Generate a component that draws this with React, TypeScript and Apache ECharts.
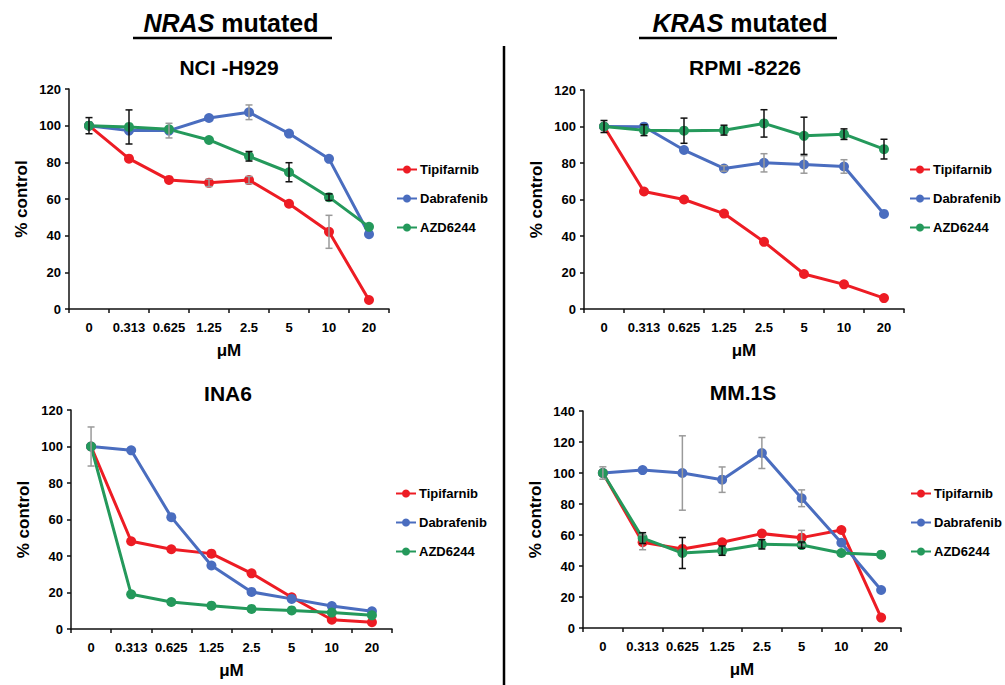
import React, { useEffect, useRef } from "react";
import * as echarts from "echarts";

const doses = ["0", "0.313", "0.625", "1.25", "2.5", "5", "10", "20"];
const drugs = ["Tipifarnib", "Dabrafenib", "AZD6244"];
const colors = ["#ed1c24", "#4a6dbf", "#24995b"];
const errColors = ["#9a9a9a", "#9a9a9a", "#111111"];

// NCI-H929
const h929Tipi = [100, 82, 70.4, 68.8, 70.3, 57.4, 42.1, 4.9];
const h929Dabra = [100, 97.3, 97.3, 104.2, 107.3, 95.7, 81.9, 40.8];
const h929Azd = [100, 99.3, 98, 92.2, 83.3, 74.6, 61, 44.8];
const h929TipiErr = [0, 0, 0, 2, 2, 0, 9, 0];
const h929DabraErr = [0, 0, 4, 0, 4, 0, 0, 0];
const h929AzdErr = [4.4, 9.3, 0, 0, 2.6, 5.2, 1.8, 0];

// RPMI-8226
const rpmiTipi = [100, 64.4, 60, 52.3, 36.8, 19.2, 13.5, 6];
const rpmiDabra = [100, 99.9, 87.1, 77, 80.1, 79.2, 78.1, 52.1];
const rpmiAzd = [100, 98, 97.7, 98, 101.7, 94.9, 95.8, 87.6];
const rpmiTipiErr = [0, 0, 0, 0, 0, 0, 0, 0];
const rpmiDabraErr = [0, 0, 0, 1.5, 5, 4.8, 3.7, 0];
const rpmiAzdErr = [3.3, 3, 6.9, 2.7, 7.5, 10.2, 2.9, 5.4];

// INA6
const ina6Tipi = [100, 48.1, 43.7, 41.3, 30.5, 17.4, 5.1, 3.7];
const ina6Dabra = [100, 97.9, 61.3, 34.8, 20.3, 16.5, 12.6, 9.7];
const ina6Azd = [100, 19, 14.8, 12.8, 11, 10.2, 9, 7.5];
const ina6TipiErr = [10.7, 0, 0, 0, 0, 0, 0, 0];
const ina6DabraErr = [0, 0, 0, 0, 0, 0, 0, 0];
const ina6AzdErr = [0, 0, 0, 0, 0, 0, 0, 0];

// MM.1S
const mm1sTipi = [100, 55.3, 51, 55.3, 60.9, 58.3, 63.2, 6.7];
const mm1sDabra = [100, 101.9, 100, 95.7, 112.9, 83.7, 55, 24.5];
const mm1sAzd = [100, 58, 48.4, 49.9, 54, 53.5, 48.4, 47.3];
const mm1sTipiErr = [0, 4.8, 0, 0, 0, 4.7, 0, 0];
const mm1sDabraErr = [4, 0, 24, 8.2, 10, 5.4, 0, 0];
const mm1sAzdErr = [0, 3.5, 10, 3, 3, 2, 0, 0];

const panelTitles = ["NCI -H929", "RPMI -8226", "INA6", "MM.1S"];
const panelMax = [120, 120, 120, 140];

const FONT = "'Liberation Sans', Arial, sans-serif";

export default function App() {
  const ref = useRef<HTMLDivElement>(null);
  useEffect(() => {
    if (!ref.current) return;
    const chart = echarts.init(ref.current, undefined, { renderer: "svg" });

    const panels = [
      { vals: [h929Tipi, h929Dabra, h929Azd], errs: [h929TipiErr, h929DabraErr, h929AzdErr] },
      { vals: [rpmiTipi, rpmiDabra, rpmiAzd], errs: [rpmiTipiErr, rpmiDabraErr, rpmiAzdErr] },
      { vals: [ina6Tipi, ina6Dabra, ina6Azd], errs: [ina6TipiErr, ina6DabraErr, ina6AzdErr] },
      { vals: [mm1sTipi, mm1sDabra, mm1sAzd], errs: [mm1sTipiErr, mm1sDabraErr, mm1sAzdErr] },
    ];

    const grids = [
      { left: 69, top: 89, width: 320, height: 220 },
      { left: 584, top: 90, width: 320, height: 219 },
      { left: 71, top: 410, width: 321, height: 219 },
      { left: 583, top: 411, width: 318, height: 217 },
    ];
    const titlePos = [
      { x: 229, y: 57 },
      { x: 745, y: 57 },
      { x: 228, y: 383 },
      { x: 743, y: 382 },
    ];
    const legendPos = [
      { x: 396, y: 163 },
      { x: 909, y: 163 },
      { x: 395, y: 487 },
      { x: 910, y: 487 },
    ];

    const axisLine = { lineStyle: { color: "#111", width: 1.5 } };

    const xAxes = grids.map((_, i) => ({
      type: "category",
      gridIndex: i,
      data: doses,
      boundaryGap: true,
      axisLine,
      axisTick: { show: true, length: 4, lineStyle: { color: "#111", width: 1.5 } },
      axisLabel: { color: "#000", fontSize: 13, fontWeight: "bold", fontFamily: FONT, margin: 12, interval: 0 },
      name: "μM",
      nameLocation: "middle",
      nameGap: 33,
      nameTextStyle: { color: "#000", fontSize: 17, fontWeight: "bold", fontFamily: FONT },
      splitLine: { show: false },
    }));
    const yAxes = grids.map((_, i) => ({
      type: "value",
      gridIndex: i,
      min: 0,
      max: panelMax[i],
      interval: 20,
      axisLine: { show: true, ...axisLine },
      axisTick: { show: true, length: 4, lineStyle: { color: "#111", width: 1.5 } },
      axisLabel: { color: "#000", fontSize: 13, fontWeight: "bold", fontFamily: FONT, margin: 8 },
      splitLine: { show: false },
      name: "% control",
      nameLocation: "middle",
      nameGap: 39,
      nameRotate: 90,
      nameTextStyle: { color: "#000", fontSize: 17, fontWeight: "bold", fontFamily: FONT },
    }));

    const series: any[] = [];
    panels.forEach((p, gi) => {
      p.vals.forEach((vals, si) => {
        series.push({
          type: "line",
          name: drugs[si],
          xAxisIndex: gi,
          yAxisIndex: gi,
          data: vals,
          symbol: "circle",
          symbolSize: 10,
          lineStyle: { color: colors[si], width: 3 },
          itemStyle: { color: colors[si] },
          z: 2,
        });
      });
      p.errs.forEach((errs, si) => {
        const data = errs
          .map((e, k) => [k, p.vals[si][k] - e, p.vals[si][k] + e, e])
          .filter((d) => d[3] > 0);
        if (!data.length) return;
        series.push({
          type: "custom",
          name: drugs[si] + " err",
          xAxisIndex: gi,
          yAxisIndex: gi,
          data,
          z: 3,
          silent: true,
          renderItem: (params: any, api: any) => {
            const x = api.value(0);
            const lo = api.coord([x, api.value(1)]);
            const hi = api.coord([x, api.value(2)]);
            const cap = 3.5;
            const style = { stroke: errColors[si], lineWidth: 1.5 };
            return {
              type: "group",
              children: [
                { type: "line", shape: { x1: lo[0], y1: lo[1], x2: hi[0], y2: hi[1] }, style },
                { type: "line", shape: { x1: lo[0] - cap, y1: lo[1], x2: lo[0] + cap, y2: lo[1] }, style },
                { type: "line", shape: { x1: hi[0] - cap, y1: hi[1], x2: hi[0] + cap, y2: hi[1] }, style },
              ],
            };
          },
        });
      });
    });

    const option: any = {
      animation: false,
      backgroundColor: "#fff",
      title: panelTitles.map((t, i) => ({
        text: t,
        left: titlePos[i].x,
        top: titlePos[i].y,
        textAlign: "center",
        padding: 0,
        textStyle: { color: "#000", fontSize: 21, fontWeight: "bold", fontFamily: FONT },
      })),
      legend: legendPos.map((lp) => ({
        data: drugs,
        orient: "vertical",
        left: lp.x,
        top: lp.y,
        itemWidth: 20,
        itemHeight: 10,
        itemGap: 16,
        padding: 0,
        selectedMode: false,
        textStyle: { color: "#000", fontSize: 13, fontWeight: "bold", fontFamily: FONT, padding: [0, 0, 0, -2] },
      })),
      grid: grids,
      xAxis: xAxes,
      yAxis: yAxes,
      series,
      graphic: [
        {
          type: "text",
          x: 231,
          y: 23,
          style: {
            text: "{i|NRAS} mutated",
            rich: { i: { fontStyle: "italic", fontWeight: "bold", fontSize: 25, fontFamily: FONT, fill: "#000" } },
            fontSize: 25,
            fontWeight: "bold",
            fontFamily: FONT,
            fill: "#000",
            align: "center",
            verticalAlign: "middle",
          },
        },
        { type: "line", shape: { x1: 133, y1: 38, x2: 332, y2: 38 }, style: { stroke: "#000", lineWidth: 2.5 } },
        {
          type: "text",
          x: 740,
          y: 23,
          style: {
            text: "{i|KRAS} mutated",
            rich: { i: { fontStyle: "italic", fontWeight: "bold", fontSize: 25, fontFamily: FONT, fill: "#000" } },
            fontSize: 25,
            fontWeight: "bold",
            fontFamily: FONT,
            fill: "#000",
            align: "center",
            verticalAlign: "middle",
          },
        },
        { type: "line", shape: { x1: 639, y1: 38, x2: 837, y2: 38 }, style: { stroke: "#000", lineWidth: 2.5 } },
        { type: "line", shape: { x1: 504, y1: 46, x2: 504, y2: 685 }, style: { stroke: "#000", lineWidth: 2.5 } },
      ],
    };
    chart.setOption(option);
    return () => chart.dispose();
  }, []);
  return <div ref={ref} style={{ position: "absolute", left: 0, top: 0, width: 1005, height: 685 }} />;
}
